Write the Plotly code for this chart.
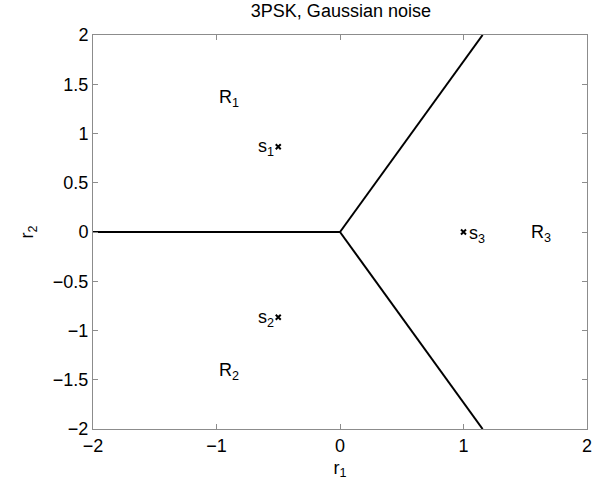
import plotly.graph_objects as go

# Decision boundaries (3PSK)
b1_x = [-2, 0]
b1_y = [0, 0]
b2_x = [0, 1.1547]
b2_y = [0, 2]
b3_x = [0, 1.1547]
b3_y = [0, -2]

# Signal points
s_x = [-0.5, -0.5, 1.0]
s_y = [0.866, -0.866, 0.0]
s_labels = ["s<sub>1</sub>", "s<sub>2</sub>", "s<sub>3</sub>"]

# Region labels
r_x = [-1.0, -1.0, 1.53]
r_y = [1.36, -1.42, -0.02]
r_labels = ["R<sub>1</sub>", "R<sub>2</sub>", "R<sub>3</sub>"]

yticks = [-2, -1.5, -1, -0.5, 0, 0.5, 1, 1.5, 2]
ytick_text = ["\u22122", "\u22121.5", "\u22121", "\u22120.5", "0", "0.5", "1", "1.5", "2"]
xticks = [-2, -1, 0, 1, 2]
xtick_text = ["\u22122", "\u22121", "0", "1", "2"]

fig = go.Figure()
for bx, by in [(b1_x, b1_y), (b2_x, b2_y), (b3_x, b3_y)]:
    fig.add_trace(go.Scatter(x=bx, y=by, mode="lines",
                             line=dict(color="black", width=2), showlegend=False,
                             hoverinfo="skip"))
fig.add_trace(go.Scatter(x=s_x, y=s_y, mode="markers",
                         marker=dict(symbol="x-thin", size=5, line=dict(color="black", width=2)),
                         showlegend=False))

font = dict(family="Liberation Sans, Arial, Helvetica, sans-serif", color="black")
ann = []
ann.append(dict(x=s_x[0] - 0.02, y=s_y[0] - 0.01, text=s_labels[0], xanchor="right", yanchor="middle",
                showarrow=False, font=dict(size=18, **font)))
ann.append(dict(x=s_x[1] - 0.02, y=s_y[1] - 0.01, text=s_labels[1], xanchor="right", yanchor="middle",
                showarrow=False, font=dict(size=18, **font)))
ann.append(dict(x=s_x[2] + 0.03, y=s_y[2] - 0.03, text=s_labels[2], xanchor="left", yanchor="middle",
                showarrow=False, font=dict(size=18, **font)))
for x, y, t in zip(r_x, r_y, r_labels):
    ann.append(dict(x=x, y=y, text=t, xanchor="left", yanchor="middle",
                    showarrow=False, font=dict(size=18, **font)))

axcol = "#8c8c8c"
fig.update_layout(
    width=596, height=492,
    margin=dict(l=93, r=4, t=35, b=63),
    paper_bgcolor="white", plot_bgcolor="white",
    font=dict(size=18, **font),
    title=dict(text="3PSK, Gaussian noise", x=0.572, xanchor="center", y=0.978, yanchor="middle",
               font=dict(size=18, **font)),
    annotations=ann,
    xaxis=dict(range=[-2, 2], tickvals=xticks, ticktext=xtick_text,
               showgrid=False, zeroline=False, showline=True, linecolor=axcol, linewidth=1,
               mirror="ticks", ticks="inside", ticklen=5, tickcolor=axcol,
               tickfont=dict(size=18, **font), ticklabeloverflow="allow",
               title=dict(text="r<sub>1</sub>", standoff=6, font=dict(size=18, **font))),
    yaxis=dict(range=[-2, 2], tickvals=yticks, ticktext=ytick_text,
               showgrid=False, zeroline=False, showline=True, linecolor=axcol, linewidth=1,
               mirror="ticks", ticks="inside", ticklen=5, tickcolor=axcol,
               tickfont=dict(size=18, **font), ticklabeloverflow="allow",
               title=dict(text="r<sub>2</sub>", standoff=14, font=dict(size=18, **font))),
)
fig.write_html("out.html")
